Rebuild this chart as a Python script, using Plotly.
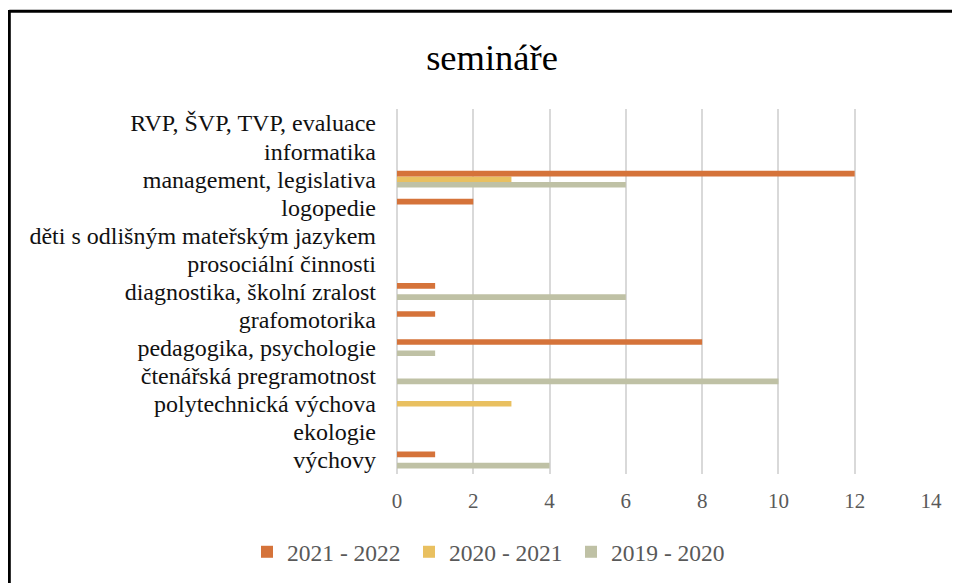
import plotly.graph_objects as go

categories = [
    "výchovy",
    "ekologie",
    "polytechnická výchova",
    "čtenářská pregramotnost",
    "pedagogika, psychologie",
    "grafomotorika",
    "diagnostika, školní zralost",
    "prosociální činnosti",
    "děti s odlišným mateřským jazykem",
    "logopedie",
    "management, legislativa",
    "informatika",
    "RVP, ŠVP, TVP, evaluace",
]
s2021_2022 = [1, 0, 0, 0, 8, 1, 1, 0, 0, 2, 12, 0, 0]
s2020_2021 = [0, 0, 3, 0, 0, 0, 0, 0, 0, 0, 3, 0, 0]
s2019_2020 = [4, 0, 0, 10, 1, 0, 6, 0, 0, 0, 6, 0, 0]

series_names = ["2019 - 2020", "2020 - 2021", "2021 - 2022"]
series_values = [s2019_2020, s2020_2021, s2021_2022]
series_colors = ["#BFC1A5", "#E9C060", "#D5733A"]

FONT = "Liberation Serif"

fig = go.Figure()
for name, vals, col in zip(series_names, series_values, series_colors):
    fig.add_trace(go.Bar(
        y=categories, x=vals, name=name, orientation="h",
        marker=dict(color=col, line=dict(width=0)),
    ))

# page body has an 8px margin; target coordinates are shifted by -8
OFF = 8
W, H = 960, 583
L, T = 397 - OFF, 109 - OFF
R = W - (931 - OFF)
B = H - (474 - OFF)
pw, ph = W - L - R, H - T - B

def px(x):
    return (x - OFF - L) / pw

def py(y):
    return (H - B - (y - OFF)) / ph

fig.update_layout(
    width=W, height=H,
    margin=dict(l=L, r=R, t=T, b=B, pad=0),
    paper_bgcolor="white", plot_bgcolor="white",
    barmode="group", bargap=0.4, bargroupgap=0,
    font=dict(family=FONT, color="#595959"),
    title=dict(text="semináře", x=(492 - OFF) / W, xref="container", xanchor="center",
               y=1 - (57 - OFF) / H, yref="container", yanchor="middle",
               font=dict(family=FONT, size=36.5, color="#000000")),
    legend=dict(orientation="h", traceorder="reversed",
                x=px(490), xanchor="center", y=py(552), yanchor="middle",
                font=dict(family=FONT, size=23.5, color="#595959"),
                itemwidth=30, tracegroupgap=0,
                entrywidth=117, entrywidthmode="pixels"),
    showlegend=True,
    xaxis=dict(range=[0, 14], dtick=2, tick0=0, showgrid=True,
               gridcolor="#D9D9D9", gridwidth=2,
               zeroline=True, zerolinecolor="#D9D9D9", zerolinewidth=2,
               showline=False, ticks="",
               tickfont=dict(family=FONT, size=21, color="#595959"),
               ticklabelstandoff=12, fixedrange=True),
    yaxis=dict(type="category", categoryorder="array", categoryarray=categories,
               tickmode="array", tickvals=categories, ticktext=categories,
               showgrid=False, zeroline=False, showline=False, ticks="",
               tickfont=dict(family=FONT, size=24, color="#111111"),
               ticklabelstandoff=20, fixedrange=True),
    shapes=[
        dict(type="line", xref="paper", yref="paper",
             x0=px(9.3), x1=px(975), y0=py(11.3), y1=py(11.3),
             line=dict(color="black", width=3)),
        dict(type="line", xref="paper", yref="paper",
             x0=px(9.3), x1=px(9.3), y0=py(10), y1=py(600),
             line=dict(color="black", width=3)),
    ],
)

fig.write_html("out.html")
